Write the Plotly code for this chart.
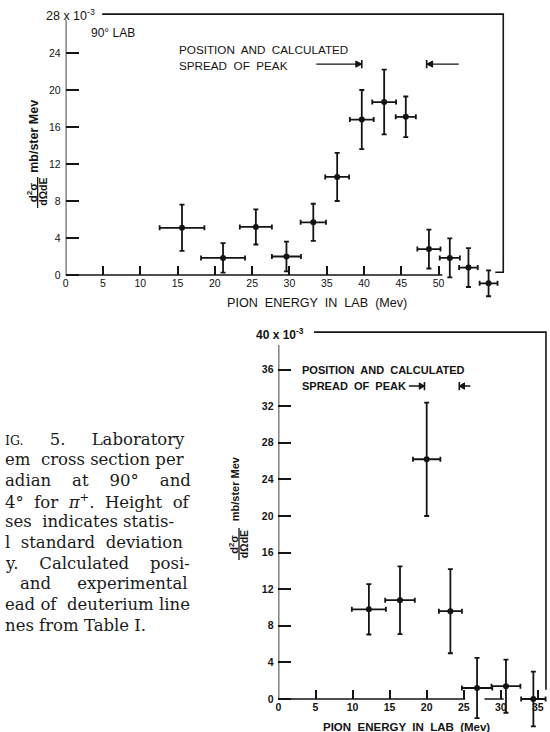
import plotly.graph_objects as go

W, H = 550, 732

# ---------------- data: upper panel (90 deg lab) ----------------
energy_90 = [15.6, 21.1, 25.5, 29.6, 33.2, 36.4, 39.7, 42.7, 45.6, 48.7, 51.5, 54.0, 56.7]
xsec_90 = [5.1, 1.85, 5.2, 2.0, 5.7, 10.6, 16.8, 18.7, 17.1, 2.8, 1.85, 0.8, -0.9]
dxsec_90 = [2.5, 1.6, 1.9, 1.6, 2.0, 2.6, 3.2, 3.5, 2.2, 2.1, 2.1, 2.1, 1.4]
denergy_90 = [3.0, 2.95, 2.15, 1.95, 1.7, 1.6, 1.6, 1.6, 1.35, 1.55, 1.35, 1.25, 1.2]
peak_90 = [39.7, 48.4]
xticks_90 = [0, 5, 10, 15, 20, 25, 30, 35, 40, 45, 50]
yticks_90 = [0, 4, 8, 12, 16, 20, 24]

# ---------------- data: lower panel ----------------
energy_b = [12.2, 16.4, 20.0, 23.2, 26.8, 30.7, 34.4]
xsec_b = [9.8, 10.8, 26.2, 9.6, 1.2, 1.4, 0.0]
dxsec_b = [2.75, 3.7, 6.2, 4.6, 3.3, 2.9, 3.0]
denergy_b = [2.3, 2.0, 1.85, 1.55, 2.05, 1.95, 1.65]
peak_b = [19.7, 24.4]
xticks_b = [0, 5, 10, 15, 20, 25, 30, 35]
yticks_b = [0, 4, 8, 12, 16, 20, 24, 28, 32, 36]

caption_lines = [
    "<span style='font-size:12.5px'>IG.</span>     5.     Laboratory",
    "em  cross section per",
    "adian    at    90°    and",
    "4°  for  <i>π</i><sup>+</sup>.  Height  of",
    "ses  indicates statis-",
    "l  standard  deviation",
    "y.    Calculated    posi-",
    "and     experimental",
    "ead of  deuterium line",
    "nes from Table I.",
]

def pxx(x):
    return x / W

def pyy(y):
    return 1 - y / H

# pixel geometry of the two panels
TOP = dict(x0=63, x1=510, sx=7.5, y0=275, yt=8, yb=302, sy=9.25)
BOT = dict(x0=277, x1=549, sx=7.45, y0=699, yt=326, yb=731, sy=9.15)

def axes(g):
    xr = [0, (g["x1"] - g["x0"]) / g["sx"]]
    yr = [(g["y0"] - g["yb"]) / g["sy"], (g["y0"] - g["yt"]) / g["sy"]]
    xd = [pxx(g["x0"]), pxx(g["x1"])]
    yd = [pyy(g["yb"]), pyy(g["yt"])]
    return xr, yr, xd, yd

INK = "#141414"
LBL = "Liberation Sans, Arial, sans-serif"

fig = go.Figure()

def add_points(xv, yv, dxv, dyv, xa, ya):
    fig.add_trace(go.Scatter(
        x=xv, y=yv, mode="markers",
        marker=dict(color=INK, size=6),
        error_x=dict(type="data", array=dxv, color=INK, thickness=1.8, width=2.5),
        error_y=dict(type="data", array=dyv, color=INK, thickness=1.8, width=2.5),
        xaxis=xa, yaxis=ya, showlegend=False, cliponaxis=False, hoverinfo="skip"))

add_points(energy_90, xsec_90, denergy_90, dxsec_90, "x", "y")
add_points(energy_b, xsec_b, denergy_b, dxsec_b, "x2", "y2")

xr1, yr1, xd1, yd1 = axes(TOP)
xr2, yr2, xd2, yd2 = axes(BOT)

def xaxis_cfg(xr, xd, pos, tv, weight="normal"):
    return dict(range=xr, domain=xd, anchor="free", position=pos, tickvals=tv,
                ticktext=[str(v) for v in tv], ticks="inside", ticklen=9, tickwidth=1.5,
                tickcolor=INK, showline=False, showgrid=False, zeroline=False,
                tickfont=dict(family=LBL, size=10.5, color=INK, weight=weight), fixedrange=True)

def yaxis_cfg(yr, yd, anchor, tv, weight="normal"):
    return dict(range=yr, domain=yd, anchor=anchor, tickvals=tv,
                ticktext=[str(v) for v in tv], ticks="inside", ticklen=13, tickwidth=1.5,
                tickcolor=INK, showline=False, showgrid=False, zeroline=False,
                ticklabelstandoff=4,
                tickfont=dict(family=LBL, size=10.5, color=INK, weight=weight), fixedrange=True)

shapes = []

def seg(xref, yref, pts, w=1.6):
    d = "M " + " L ".join(f"{x},{y}" for x, y in pts)
    shapes.append(dict(type="path", path=d, xref=xref, yref=yref,
                       line=dict(color=INK, width=w), layer="above"))

def arrow(xref, yref, xt, yc, tail, direction, hl, hh, bh):
    seg(xref, yref, [(tail, yc), (xt, yc)], 1.4)
    xb = xt - direction * hl
    shapes.append(dict(type="path", xref=xref, yref=yref,
                       path=f"M {xt},{yc} L {xb},{yc + hh} L {xb},{yc - hh} Z",
                       fillcolor=INK, line=dict(color=INK, width=1), layer="above"))
    seg(xref, yref, [(xt, yc - bh), (xt, yc + bh)], 1.6)

# ---- upper panel frame / axes ----
seg("x", "y", [(0, 0), (0, 27.6)])
seg("x", "y", [(0, 0), (50.5, 0)])
seg("x", "y", [(4.9, 28.2), (58.67, 28.2), (58.67, 0.3), (57.6, 0.3)])
yc90 = 22.8
arrow("x", "y", peak_90[0], yc90, 33.6, +1, 0.8, 0.33, 0.45)
arrow("x", "y", peak_90[1], yc90, 52.7, -1, 0.8, 0.33, 0.45)

# ---- lower panel frame / axes ----
seg("x2", "y2", [(0, 0), (0, 38.7)])
seg("x2", "y2", [(0, 0), (25.2, 0)])
seg("x2", "y2", [(27.8, 0), (30.4, 0)])
seg("x2", "y2", [(4.8, 40.1), (36.1, 40.1), (36.1, 1.0)])
ycb = 34.2
arrow("x2", "y2", peak_b[0], ycb, 17.6, +1, 0.7, 0.35, 0.45)
arrow("x2", "y2", peak_b[1], ycb, 25.9, -1, 0.7, 0.35, 0.45)

ann = []

def txt(x, y, s, size=11, xanchor="left", yanchor="middle", angle=0, family=LBL,
        color=INK, weight="normal"):
    ann.append(dict(x=pxx(x), y=pyy(y), xref="paper", yref="paper", text=s, showarrow=False,
                    xanchor=xanchor, yanchor=yanchor, textangle=angle,
                    font=dict(family=family, size=size, color=color, weight=weight)))

# upper panel texts
txt(41, 15, "28 x 10<sup>-3</sup>", size=12.5)
txt(86, 33, "90° LAB", size=12)
txt(175, 49, "POSITION  AND  CALCULATED", size=11.7)
txt(175, 65, "SPREAD  OF  PEAK", size=11.7)
txt(316, 303, "PION  ENERGY  IN  LAB  (Mev)", size=12.6, xanchor="center")
# y title (upper)
txt(29.5, 192, "d<sup>2</sup>σ", size=11.5, xanchor="center", angle=-90, weight="bold")
txt(40, 192, "dΩdE", size=10.5, xanchor="center", angle=-90, weight="bold")
shapes.append(dict(type="line", xref="paper", yref="paper",
                   x0=pxx(34.8), x1=pxx(34.8), y0=pyy(177), y1=pyy(208),
                   line=dict(color=INK, width=1.3)))
txt(31, 136, "mb/ster Mev", size=12.5, xanchor="center", angle=-90, weight="bold")

# lower panel texts
txt(252, 334, "40 x 10<sup>-3</sup>", size=12, weight="bold")
txt(299, 370, "POSITION  AND  CALCULATED", size=11, weight="bold")
txt(299, 386, "SPREAD  OF  PEAK", size=11, weight="bold")
txt(406, 727, "PION  ENERGY  IN  LAB  (Mev)", size=11.5, xanchor="center", weight="bold")
txt(232, 544, "d<sup>2</sup>σ", size=11, xanchor="center", angle=-90, weight="bold")
txt(242.5, 544, "dΩdE", size=10.5, xanchor="center", angle=-90, weight="bold")
shapes.append(dict(type="line", xref="paper", yref="paper",
                   x0=pxx(237.3), x1=pxx(237.3), y0=pyy(528), y1=pyy(560),
                   line=dict(color=INK, width=1.3)))
txt(233.5, 489, "mb/ster Mev", size=11, xanchor="center", angle=-90, weight="bold")

# caption (serif text at the left)
cap_x = [0, 0, 0, 0, 0, 0, 0, 15, 0, 0]
for i, line in enumerate(caption_lines):
    txt(cap_x[i], 439 + i * 20.7, line, size=16.5, family="DejaVu Serif, serif", color="#1a1a1a")

fig.update_layout(
    width=W, height=H, margin=dict(l=0, r=0, t=0, b=0),
    paper_bgcolor="white", plot_bgcolor="rgba(0,0,0,0)",
    xaxis=xaxis_cfg(xr1, xd1, pyy(TOP["y0"]), xticks_90),
    yaxis=yaxis_cfg(yr1, yd1, "x", yticks_90),
    xaxis2=xaxis_cfg(xr2, xd2, pyy(BOT["y0"]), xticks_b, weight="bold"),
    yaxis2=yaxis_cfg(yr2, yd2, "x2", yticks_b, weight="bold"),
    shapes=shapes, annotations=ann, showlegend=False,
)

fig.write_html("out.html")
